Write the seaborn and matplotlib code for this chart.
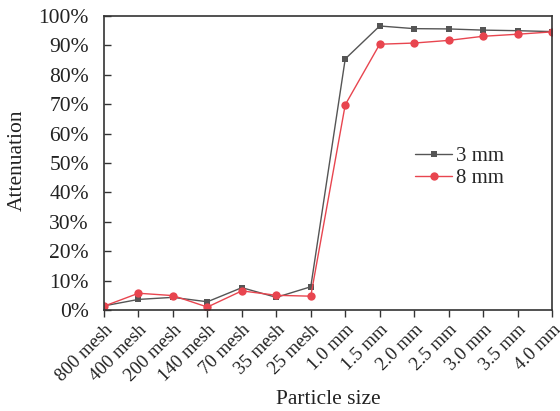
import matplotlib
matplotlib.use("Agg")
import matplotlib.pyplot as plt
import seaborn as sns
import pandas as pd
from matplotlib.ticker import PercentFormatter

categories = ["800 mesh", "400 mesh", "200 mesh", "140 mesh", "70 mesh", "35 mesh",
              "25 mesh", "1.0 mm", "1.5 mm", "2.0 mm", "2.5 mm", "3.0 mm", "3.5 mm", "4.0 mm"]
att_3mm = [1.4, 3.6, 4.3, 2.8, 7.6, 4.3, 7.9, 85.4, 96.6, 95.7, 95.6, 95.2, 95.0, 94.7]
att_8mm = [1.3, 5.7, 4.9, 1.0, 6.5, 5.0, 4.7, 69.8, 90.4, 90.8, 91.7, 93.1, 93.8, 94.6]
series_names = ["3 mm", "8 mm"]
y_ticks = [0, 10, 20, 30, 40, 50, 60, 70, 80, 90, 100]

df = pd.DataFrame({
    "size": categories * 2,
    "pos": list(range(len(categories))) * 2,
    "att": att_3mm + att_8mm,
    "series": [series_names[0]] * len(categories) + [series_names[1]] * len(categories),
})

sns.set_theme(style="white")
plt.rcParams["font.family"] = ["Liberation Serif", "DejaVu Serif"]

fig = plt.figure(figsize=(5.6, 4.11), dpi=100)
ax = fig.add_axes([104/560, 1-310/411, (552-104)/560, (310-16)/411])

palette = {"3 mm": "#555555", "8 mm": "#e8454f"}
sns.lineplot(data=df, x="pos", y="att", hue="series", style="series",
             markers={"3 mm": "s", "8 mm": "o"}, dashes=False, palette=palette,
             sort=False, ax=ax, linewidth=1.0, markeredgewidth=0, legend=True)
for line in ax.get_lines():
    if line.get_marker() == "s":
        line.set_markersize(4.5)
    elif line.get_marker() == "o":
        line.set_markersize(6)

ax.set_xlim(0, len(categories) - 1)
ax.set_ylim(0, 100)
ax.set_xticks(range(len(categories)))
ax.set_xticklabels(categories, rotation=45, ha="right", rotation_mode="anchor", fontsize=13.5)
ax.set_yticks(y_ticks)
ax.yaxis.set_major_formatter(PercentFormatter(decimals=0))
ax.tick_params(axis="y", direction="in", length=5, width=1, labelsize=15.5, pad=10.8,
               colors="#333333", labelcolor="#222222", left=True)
ax.tick_params(axis="x", direction="out", length=5, width=1, pad=3,
               colors="#333333", labelcolor="#222222", bottom=True)
for s in ax.spines.values():
    s.set_color("#333333")
    s.set_linewidth(1.2)
ax.set_xlabel("Particle size", fontsize=15.5, color="#222222", va="center")
ax.set_ylabel("Attenuation", fontsize=15.5, color="#222222", va="center")
ax.xaxis.set_label_coords(328/560, 1-399/411, transform=fig.transFigure)
ax.yaxis.set_label_coords(17/560, 1-160/411, transform=fig.transFigure)

handles, labels = ax.get_legend_handles_labels()
ax.legend(handles, labels, loc="upper left", bbox_to_anchor=(396/560, 1-128/411),
          bbox_transform=fig.transFigure, frameon=False, fontsize=15,
          handlelength=1.8, handletextpad=0.2, labelspacing=0.1)

fig.savefig("out.png", dpi=100)
